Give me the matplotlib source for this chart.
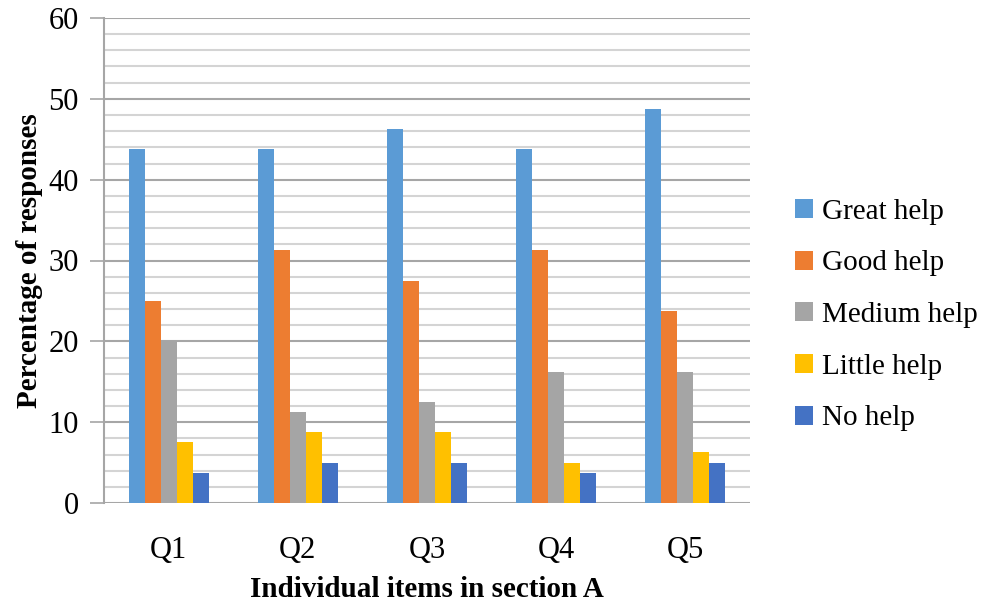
import matplotlib
matplotlib.use("Agg")
import matplotlib.pyplot as plt
import numpy as np
from matplotlib.patches import Patch

questions = ["Q1", "Q2", "Q3", "Q4", "Q5"]
series_names = ["Great help", "Good help", "Medium help", "Little help", "No help"]
great_help = [43.75, 43.75, 46.25, 43.75, 48.75]
good_help = [25.0, 31.25, 27.5, 31.25, 23.75]
medium_help = [20.0, 11.25, 12.5, 16.25, 16.25]
little_help = [7.5, 8.75, 8.75, 5.0, 6.25]
no_help = [3.75, 5.0, 5.0, 3.75, 5.0]
colors = ["#5B9BD5", "#ED7D31", "#A5A5A5", "#FFC000", "#4472C4"]

plt.rcParams["font.family"] = ["Liberation Serif", "DejaVu Serif"]

fig = plt.figure(figsize=(10.01, 6.05), dpi=100)
ax = fig.add_axes([104 / 1001, 1 - 503 / 605, (750 - 104) / 1001, (503 - 18) / 605])

values = [great_help, good_help, medium_help, little_help, no_help]
x = np.arange(len(questions))
bw = 0.124
for i, (vals, c) in enumerate(zip(values, colors)):
    ax.bar(x + (i - 2) * bw, vals, width=bw, color=c, zorder=3, linewidth=0)

ax.set_xlim(-0.5, 4.5)
ax.set_ylim(0, 60)
ax.set_yticks(np.arange(0, 61, 10))
ax.set_yticks(np.arange(0, 61, 2), minor=True)
ax.grid(axis="y", which="minor", color="#d4d4d4", linewidth=1.5, zorder=0)
ax.grid(axis="y", which="major", color="#a6a6a6", linewidth=1.5, zorder=1)
ax.tick_params(axis="y", which="major", length=10, width=1.2, color="#a6a6a6",
               labelsize=22, pad=8)
ax.tick_params(axis="y", which="minor", length=0)
ax.set_xticks(x)
ax.set_xticklabels(questions)
ax.tick_params(axis="x", length=0, labelsize=22, pad=24)

for s in ["top", "right", "bottom"]:
    ax.spines[s].set_visible(False)
ax.spines["left"].set_color("#a6a6a6")
ax.spines["left"].set_linewidth(1.5)

ax.set_ylabel("Percentage of responses", fontsize=21, fontweight="bold", labelpad=4)
ax.set_xlabel("Individual items in section A", fontsize=21, fontweight="bold", labelpad=8)

handles = [Patch(facecolor=c, edgecolor="none") for c in colors]
fig.legend(handles, series_names, loc="center left", bbox_to_anchor=(795 / 1001, 1 - 315 / 605),
           frameon=False, fontsize=21, handlelength=0.62, handleheight=0.62,
           handletextpad=0.3, labelspacing=0.88, borderpad=0, borderaxespad=0)

fig.savefig("out.png", dpi=100)
